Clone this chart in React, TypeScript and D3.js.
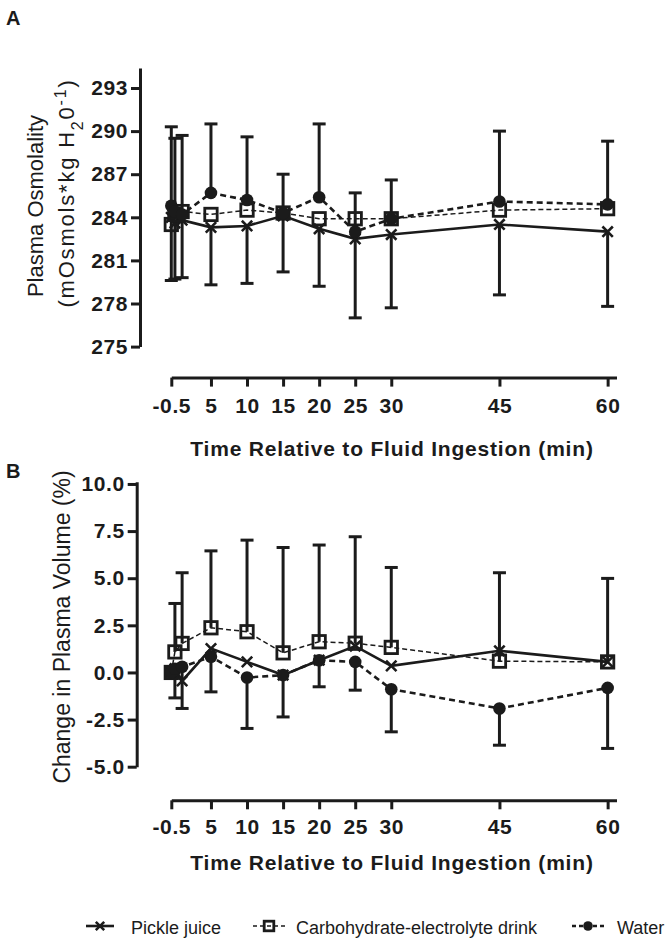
import React, { useEffect, useRef } from "react";
import * as d3 from "d3";

// sampling times (min) and the labelled ticks
const times = [-0.5, 0, 1, 5, 10, 15, 20, 25, 30, 45, 60];
const timeTicks = [-0.5, 5, 10, 15, 20, 25, 30, 45, 60];

// A: plasma osmolality
const osmoPickle = [284.0, 283.6, 283.8, 283.3, 283.4, 284.1, 283.2, 282.5, 282.8, 283.5, 283.0];
const osmoCho = [283.5, 284.2, 284.4, 284.2, 284.5, 284.3, 283.9, 283.9, 283.9, 284.5, 284.6];
const osmoWater = [284.8, 284.4, 284.2, 285.7, 285.2, 284.3, 285.4, 283.0, 283.9, 285.1, 284.9];
const osmoWaterSdUp = [5.5, 5.1, 5.5, 4.8, 4.4, 2.7, 5.1, 2.7, 2.7, 4.9, 4.4];
const osmoPickleSdDown = [4.4, 3.9, 4.0, 4.0, 4.0, 3.9, 4.0, 5.5, 5.1, 4.9, 5.2];
const osmoTicks = [275, 278, 281, 284, 287, 290, 293];

// B: change in plasma volume
const pvPickle = [0, 0.2, -0.45, 1.27, 0.56, -0.14, 0.65, 1.4, 0.35, 1.15, 0.56];
const pvCho = [0, 1.09, 1.54, 2.37, 2.16, 1.04, 1.63, 1.55, 1.33, 0.6, 0.56];
const pvWater = [0, 0.2, 0.3, 0.83, -0.27, -0.14, 0.65, 0.56, -0.89, -1.91, -0.82];
const pvChoSdUp = [0, 2.57, 3.75, 4.08, 4.86, 5.59, 5.13, 5.65, 4.24, 4.69, 4.43];
const pvWaterSdDown = [0, 1.55, 2.21, 1.86, 2.7, 2.22, 1.41, 1.5, 2.26, 1.95, 3.21];
const pvTicks = [-5, -2.5, 0, 2.5, 5, 7.5, 10];

const seriesNames = ["Pickle juice", "Carbohydrate-electrolyte drink", "Water"];

const INK = "#1b1b1b";
const FONT = "'Liberation Sans', Arial, Helvetica, sans-serif";
const styles = [
  { marker: "x", dash: null, width: 2.6 },
  { marker: "square", dash: "5,3", width: 1.5 },
  { marker: "circle", dash: "6,4", width: 2.6 },
];

function drawMarker(g, kind, cx, cy, s) {
  if (kind === "x") {
    g.append("path")
      .attr("d", `M${cx - s},${cy - s}L${cx + s},${cy + s}M${cx - s},${cy + s}L${cx + s},${cy - s}`)
      .attr("stroke", INK)
      .attr("stroke-width", 2.6);
  } else if (kind === "square") {
    g.append("rect")
      .attr("x", cx - s)
      .attr("y", cy - s)
      .attr("width", 2 * s)
      .attr("height", 2 * s)
      .attr("fill", "none")
      .attr("stroke", INK)
      .attr("stroke-width", 2.8);
  } else {
    g.append("circle").attr("cx", cx).attr("cy", cy).attr("r", s).attr("fill", INK);
  }
}

function drawPanel(svg, cfg) {
  const x = d3.scaleLinear().domain([-0.5, 61.23]).range([171.3, 616.5]);
  const y = d3.scaleLinear().domain(cfg.yDomain).range(cfg.yRange);
  const g = svg.append("g");

  // y axis
  const yAxis = g
    .append("g")
    .attr("transform", `translate(${cfg.axisX},0)`)
    .call(d3.axisLeft(y).tickValues(cfg.yTicks).tickSize(9).tickSizeOuter(0).tickPadding(3).tickFormat(cfg.fmt));
  // x axis
  const xAxis = g
    .append("g")
    .attr("transform", `translate(0,${cfg.axisY})`)
    .call(d3.axisBottom(x).tickValues(timeTicks).tickSize(9).tickSizeOuter(0).tickPadding(cfg.xPad).tickFormat((d) => String(d)));

  [yAxis, xAxis].forEach((a) => {
    a.select(".domain").attr("stroke", INK).attr("stroke-width", 3);
    a.selectAll(".tick line").attr("stroke", INK).attr("stroke-width", 3);
    a.selectAll(".tick text")
      .attr("fill", INK)
      .style("font-family", FONT)
      .style("font-weight", "bold")
      .style("font-size", "21px")
      .style("letter-spacing", "0.6px");
  });
  xAxis.selectAll(".tick text").attr("dy", "0.71em");

  // x title
  g.append("text")
    .attr("x", 392)
    .attr("y", cfg.axisY + cfg.titleOffset)
    .attr("text-anchor", "middle")
    .attr("fill", INK)
    .style("font-family", FONT)
    .style("font-weight", "bold")
    .style("font-size", "21px")
    .style("letter-spacing", "0.8px")
    .text("Time Relative to Fluid Ingestion (min)");

  // lines
  cfg.values.forEach((vals, i) => {
    const line = d3
      .line()
      .x((d, j) => x(times[j]))
      .y((d) => y(d));
    g.append("path")
      .datum(vals)
      .attr("d", line)
      .attr("fill", "none")
      .attr("stroke", INK)
      .attr("stroke-width", styles[i].width)
      .attr("stroke-dasharray", styles[i].dash);
  });

  // error bars (one-sided)
  cfg.errors.forEach((e) => {
    const vals = cfg.values[e.series];
    e.sd.forEach((sd, j) => {
      if (!sd) return;
      const cx = x(times[j]);
      const y0 = y(vals[j]);
      const y1 = y(vals[j] + e.dir * sd);
      g.append("line").attr("x1", cx).attr("x2", cx).attr("y1", y0).attr("y2", y1).attr("stroke", INK).attr("stroke-width", 3);
      g.append("line").attr("x1", cx - 6.5).attr("x2", cx + 6.5).attr("y1", y1).attr("y2", y1).attr("stroke", INK).attr("stroke-width", 3);
    });
  });

  // markers
  cfg.values.forEach((vals, i) => {
    const size = styles[i].marker === "circle" ? 6.3 : styles[i].marker === "square" ? 6.2 : 5.2;
    vals.forEach((v, j) => drawMarker(g, styles[i].marker, x(times[j]), y(v), size));
  });
}

export default function App() {
  const ref = useRef(null);

  useEffect(() => {
    const svg = d3.select(ref.current);
    svg.selectAll("*").remove();

    drawPanel(svg, {
      yDomain: [275, 294.4],
      yRange: [346.6, 67.9],
      yTicks: osmoTicks,
      fmt: (d) => String(d),
      axisX: 140,
      axisY: 377.6,
      xPad: 11,
      titleOffset: 78,
      values: [osmoPickle, osmoCho, osmoWater],
      errors: [
        { series: 2, sd: osmoWaterSdUp, dir: 1 },
        { series: 0, sd: osmoPickleSdDown, dir: -1 },
      ],
    });

    drawPanel(svg, {
      yDomain: [-5, 10.12],
      yRange: [766.7, 481.7],
      yTicks: pvTicks,
      fmt: (d) => d.toFixed(1),
      axisX: 136.7,
      axisY: 800.3,
      xPad: 10,
      titleOffset: 70,
      values: [pvPickle, pvCho, pvWater],
      errors: [
        { series: 1, sd: pvChoSdUp, dir: 1 },
        { series: 2, sd: pvWaterSdDown, dir: -1 },
      ],
    });

    const txt = (x, y, s, size, weight, rot) => {
      const t = svg
        .append("text")
        .attr("transform", rot ? `translate(${x},${y}) rotate(-90)` : `translate(${x},${y})`)
        .attr("text-anchor", rot ? "middle" : "start")
        .attr("fill", INK)
        .style("font-family", FONT)
        .style("font-size", `${size}px`)
        .style("font-weight", weight);
      if (s) t.text(s);
      return t;
    };

    // panel letters
    txt(6, 25, "A", 20, "bold", false);
    txt(6, 478, "B", 20, "bold", false);

    // y titles
    txt(43, 206, "Plasma Osmolality", 22, "normal", true);
    const t2 = txt(74, 193, null, 22, "normal", true).style("letter-spacing", "1.8px");
    t2.append("tspan").text("(mOsmols*kg H");
    t2.append("tspan").attr("baseline-shift", "sub").style("font-size", "16px").text("2");
    t2.append("tspan").text("0");
    t2.append("tspan").attr("baseline-shift", "super").style("font-size", "16px").text("-1");
    t2.append("tspan").text(")");
    txt(70, 627, "Change in Plasma Volume (%)", 23, "normal", true);

    // legend
    const legendItems = [
      { x1: 86, x2: 114, tx: 131 },
      { x1: 253, x2: 285, tx: 296 },
      { x1: 572, x2: 604, tx: 617 },
    ];
    const ly = 926;
    seriesNames.forEach((name, i) => {
      const it = legendItems[i];
      const lg = svg.append("g");
      lg.append("line")
        .attr("x1", it.x1)
        .attr("x2", it.x2)
        .attr("y1", ly)
        .attr("y2", ly)
        .attr("stroke", INK)
        .attr("stroke-width", styles[i].width)
        .attr("stroke-dasharray", styles[i].dash ? "4,3" : null);
      const size = styles[i].marker === "circle" ? 4.8 : styles[i].marker === "square" ? 4.8 : 4.2;
      drawMarker(lg, styles[i].marker, (it.x1 + it.x2) / 2, ly, size);
      txt(it.tx, 934, name, 18, "normal", false);
    });
  }, []);

  return (
    <svg
      ref={ref}
      width={672}
      height={941}
      style={{ position: "absolute", left: 0, top: 0, background: "#fff" }}
    />
  );
}
